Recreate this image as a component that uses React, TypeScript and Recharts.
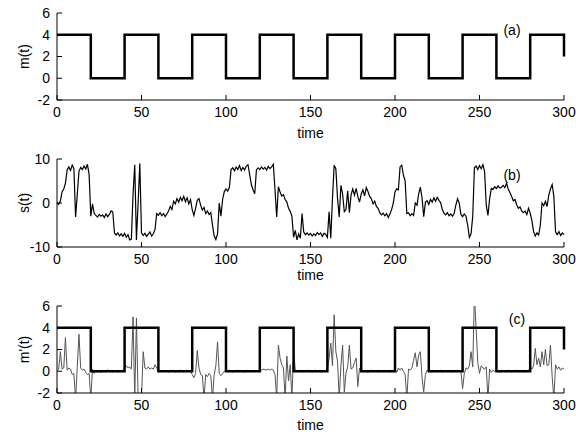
import React from 'react';
import { LineChart, Line, XAxis, YAxis } from 'recharts';

const FONT = '"Liberation Sans", Arial, Helvetica, sans-serif';

// time axis
const timeTicks = [0, 50, 100, 150, 200, 250, 300];
const mTicks = [-2, 0, 2, 4, 6];
const sTicks = [-10, 0, 10];

// square-wave message m(t): level held from each segment start
const mSegmentStarts = [0, 20, 40, 60, 80, 100, 120, 140, 160, 180, 200, 220, 240, 260, 280];
const mLevels = [4, 0, 4, 0, 4, 0, 4, 0, 4, 0, 4, 0, 4, 0, 4];
const mEndTime = 300;
const mEndLevel = 2;

// chaotic carrier s(t), t = 0..300
const sValues = [
  0, -0.3, 0.5, 2.5, 3.2, 4.5, 7.5, 8.2, 7.4, 8.6,
  7.8, -3.2, 2, 7.2, 8.1, 7.6, 8.4, 7.7, 8.8, 6.5,
  -3, -0.2, -2.4, -2.8, -3.2, -2.6, -3.0, -2.7, -3.3, -2.5,
  -3.1, -2.6, -1.8, -2, -6.8, -7.3, -6.8, -7.5, -7.0, -7.6,
  -6.9, -7.8, -7.2, -8.4, -8.2, 2, 8.7, -8.4, 0, 9,
  -6.8, -7.4, -6.9, -7.6, -7.1, -6.6, -7.5, -7.0, -6, -2.4,
  -2.8, -2.2, -2.9, -2.4, -3.1, -2.5, -1.8, -0.8, -1.5, 0.4,
  -0.2, 1, 0.2, 1.3, 0.5, 1.5, 0.3, 1.2, -0.2, 0.8,
  -1.5, -2.8, -1.2, 0.6, 1, -0.5, -1.6, -1.0, -2.4, -1.8,
  -2.6, -2.2, -5, -7.5, -8.3, -7, 0, -3, 0.8, 2.6,
  3.2, 2.7, 3.5, 7.6, 8, 7.3, 8.2, 7.6, 8.5, 7.4,
  8.1, 7.5, 8.4, 8.7, 6.5, 4.2, 3, 2.1, 7.5, 8,
  7.6, 8.2, 7.7, 8.1, 7.5, 8.3, 7.8, 8.2, 8.8, 3,
  -3.2, 3.7, 2.5, 1.6, 1.9, 0.8, 0.2, -1.2, -1.9, -3,
  -7.8, -6.2, -8.4, -7, -8, -2.4, -6.6, -7.2, -6.8, -7.3,
  -6.9, -7.5, -7, -7.4, -6.7, -7.2, -6.8, -7.6, -6.9, -7.1,
  -7.8, -2, -8, 1, 8.6, 7.8, 1, -3.2, 4, 2,
  -2, -1.5, 2.8, -2.2, 1.8, 3.2, 1.8, 3.3, 1.5, 0.2,
  2, 3, 1.6, 3.5, 2.6, 1.5, 1, -0.2, 0.4, -0.8,
  -1.2, -2.2, -2.7, -2.3, -2.9, -2.4, -3.3, -2.5, -1.5, 0,
  2.5, 3.2, 3, 8.2, 8.6, 6.3, 5, -2.4, -2.2, -2.9,
  -2.4, -2.8, 0, -0.5, 2, 3.6, 1.2, -3.1, 0.2, 0.5,
  -0.3, 0.8, 0.2, 1.2, 0.4, 1.3, 0.6, 0.1, -1.5, -2.3,
  -2.7, -2.2, -2.9, -2.5, -3, -2.4, -0.5, 1, 0, -2.6,
  -3.1, -2.5, -3, -5, -7.8, -7, -3, 8, 8.4, 7.6,
  8.5, 7.8, 8.7, 7.2, -0.5, -2.8, 1, 3.3, 3.1, 3.7,
  3.3, 3.9, 3.4, 3.6, 4, 3.5, 4.5, 3.2, 2.4, 1.5,
  0.5, 0.8, -0.4, -1.2, -0.9, -1.8, -2.2, -1.8, -2.6, -1.2,
  -2.3, -4, -6.5, -7.5, -6.8, -7.3, -5, 0, -0.6, 0.4,
  -0.8, 1.8, 3.2, 4.2, 1.5, -6.6, -7.2, -6.5, -7.4, -6.8,
  -7.2,
];

// recovered message m'(t), t = 0..300
const mRecovered = [
  0.1, 0.2, 1.8, 0.2, 0.3, 3.1, 0.1, 0.3, 0.2, -0.3, -0.2, -2.6, 0.4, 3.4, 0.3, 0.1, 0.2, -0.1, -0.3, -0.2, -2.5, 0.2, -0.2,
  0.1, -0.1, 0.05, -0.15, 0.1, 0, -0.1, 0.15, -0.05, 0.1, -0.1, 0, 0.1, -0.1, 0.05, -0.05, 0.1,
  0.3, 0.5, 0.3, 0.4, 0.2, 5.0, -2.6, 4.9, -2.5, -2.6, -2.4, 1.8, 0.3, 0.2, 0.4, 0.2, 0.3, 0.2, 0.6, 0.3,
  0.05, -0.1, 0.1, 0, -0.05, 0.1, -0.1, 0.05, 0, 0.1, -0.1, 0.05, -0.05, 0.1, 0, -0.1, 0.05, 0.1, -0.05, 0,
  -0.3, -0.6, -0.2, 1.9, 0.3, -0.3, -0.4, -2.5, -0.3, -0.5, -0.2, -0.4, -2.5, -0.3, 0.5, 2.7, -0.2, -0.4, -0.2, 0,
  0.05, -0.05, 0.1, 0, -0.1, 0.05, 0, 0.1, -0.05, 0.05, 0, -0.1, 0.1, 0.05, -0.05, 0, 0.1, -0.05, 0.05, 0,
  0.2, 0.1, 0.2, 0.15, 0.1, 0.2, 0.1, 0.2, 0.1, -0.3, -2.5, 2.4, 1.2, 0.6, 0.3, -2.5, 1.4, -0.9, 0.6, -2.5, 1.8,
  0.1, -0.05, 0, 0.1, -0.1, 0.05, 0, -0.05, 0.1, 0, -0.1, 0.05, 0.1, -0.05, 0, 0.05, -0.1, 0.1, 0,
  0.3, 1.2, 2.6, 0.5, 5.2, 1.8, 0.9, -2.5, 0.5, 2.4, -1.9, -0.2, 0.4, 2.4, 0.2, 0.3, 0.8, 1.2, -1.4, 0.3,
  0, 0.1, -0.05, 0.05, -0.1, 0, 0.1, -0.05, 0, 0.05, -0.1, 0.1, 0, -0.05, 0.05, 0, 0.1, -0.1, 0.05, 0,
  0.2, -0.1, 0.3, 0.1, 0.3, 0, -0.3, -2.5, 0.2, 0.1, 0.3, 1.0, 1.7, 0.4, 1.5, 1.8, -0.6, -1.9, -0.3, 0.1,
  0, 0.05, -0.1, 0.1, 0, -0.05, 0.05, 0.1, -0.1, 0, 0.05, -0.05, 0.1, 0, -0.1, 0.05, 0, 0.1, -0.05, 0,
  -1.6, -0.2, 0.3, 0.2, 0.5, 1.8, 0.4, 7, 3.9, 0.8, -0.2, 0.5, 0.3, 0.2, 0.4, -2.5, 0.2, -0.1, 0.1, 0,
  0.05, 0, -0.1, 0.1, 0, 0.05, -0.05, 0.1, 0, -0.1, 0.05, 0, 0.1, -0.05, 0, 0.05, -0.1, 0.1, 0, 0.05,
  0.4, 0.2, 0.5, 2.1, 0.6, 1.2, 0.4, 1.8, 0.6, 2.0, 0.5, 0.6, 2.4, -0.5, -2.5, 0.6, 0.2, 0.4, 0.1, 0.3, 0.2,
];

const levelAt = (t: number) => {
  if (t >= mEndTime) return mEndLevel;
  let idx = 0;
  for (let i = 0; i < mSegmentStarts.length; i++) if (mSegmentStarts[i] <= t) idx = i;
  return mLevels[idx];
};

const dataA = mSegmentStarts
  .map((t, i) => ({ t, m: mLevels[i] }))
  .concat([{ t: mEndTime, m: mEndLevel }]);
const dataB = sValues.map((v, i) => ({ t: i, s: v }));
const dataC = mRecovered.map((v, i) => ({ t: i, mp: v, m: levelAt(i) }));

type LineSpec = { key: string; color: string; width: number; type: 'linear' | 'stepAfter' };

const tickStyle = { fill: '#000', fontSize: 14, fontFamily: FONT };

function Panel(props: {
  top: number;
  height: number;
  xAxisHeight: number;
  timeOffset: number;
  data: any[];
  yDomain: [number, number];
  yTicks: number[];
  yLabel: string;
  lines: LineSpec[];
}) {
  const { top, height, xAxisHeight, timeOffset, data, yDomain, yTicks, yLabel, lines } = props;
  return (
    <div style={{ position: 'absolute', left: 0, top }}>
      <LineChart width={576} height={height} data={data} margin={{ top: 13, right: 12, bottom: 0, left: 7 }}>
        <XAxis
          xAxisId="b"
          dataKey="t"
          type="number"
          domain={[0, 300]}
          ticks={timeTicks}
          interval={0}
          orientation="bottom"
          height={xAxisHeight}
          tickSize={-5}
          tickMargin={12}
          stroke="#000"
          tick={tickStyle}
          label={{ value: 'time', position: 'insideBottom', offset: timeOffset, fill: '#000', fontSize: 14, fontFamily: FONT }}
        />
        <XAxis
          xAxisId="t"
          dataKey="t"
          type="number"
          domain={[0, 300]}
          ticks={timeTicks}
          interval={0}
          orientation="top"
          height={0}
          tickSize={-5}
          tickFormatter={() => ''}
          stroke="#000"
        />
        <YAxis
          yAxisId="l"
          type="number"
          domain={yDomain}
          ticks={yTicks}
          interval={0}
          allowDataOverflow
          width={50}
          tickSize={-5}
          tickMargin={12}
          stroke="#000"
          tick={tickStyle}
          label={{
            value: yLabel,
            angle: -90,
            position: 'insideLeft',
            offset: 17,
            fill: '#000',
            fontSize: 14,
            fontFamily: FONT,
            style: { textAnchor: 'middle' },
          }}
        />
        <YAxis
          yAxisId="r"
          orientation="right"
          type="number"
          domain={yDomain}
          ticks={yTicks}
          interval={0}
          allowDataOverflow
          width={0}
          tickSize={-5}
          tickFormatter={() => ''}
          stroke="#000"
        />
        {lines.map((l) => (
          <Line
            key={l.key}
            xAxisId="b"
            yAxisId="l"
            dataKey={l.key}
            type={l.type}
            stroke={l.color}
            strokeWidth={l.width}
            dot={false}
            activeDot={false}
            isAnimationActive={false}
          />
        ))}
      </LineChart>
    </div>
  );
}

const noteStyle: React.CSSProperties = {
  position: 'absolute',
  transform: 'translate(-50%, -50%)',
  fontFamily: FONT,
  fontSize: 14,
  color: '#000',
  lineHeight: 1,
  whiteSpace: 'nowrap',
};

export default function App() {
  return (
    <div style={{ position: 'absolute', left: 0, top: 0, width: 576, height: 434, background: '#fff', overflow: 'hidden' }}>
      <Panel
        top={0}
        height={145}
        xAxisHeight={45}
        timeOffset={7}
        data={dataA}
        yDomain={[-2, 6]}
        yTicks={mTicks}
        yLabel="m(t)"
        lines={[{ key: 'm', color: '#000', width: 2.5, type: 'stepAfter' }]}
      />
      <Panel
        top={146}
        height={146}
        xAxisHeight={45}
        timeOffset={12}
        data={dataB}
        yDomain={[-10, 10]}
        yTicks={sTicks}
        yLabel="s(t)"
        lines={[{ key: 's', color: '#000', width: 1.2, type: 'linear' }]}
      />
      <Panel
        top={293}
        height={141}
        xAxisHeight={41}
        timeOffset={4}
        data={dataC}
        yDomain={[-2, 6]}
        yTicks={mTicks}
        yLabel="m'(t)"
        lines={[
          { key: 'mp', color: '#555', width: 1, type: 'linear' },
          { key: 'm', color: '#000', width: 2.5, type: 'stepAfter' },
        ]}
      />
      <div style={{ ...noteStyle, left: 512, top: 30 }}>(a)</div>
      <div style={{ ...noteStyle, left: 512, top: 175 }}>(b)</div>
      <div style={{ ...noteStyle, left: 517, top: 319 }}>(c)</div>
    </div>
  );
}
